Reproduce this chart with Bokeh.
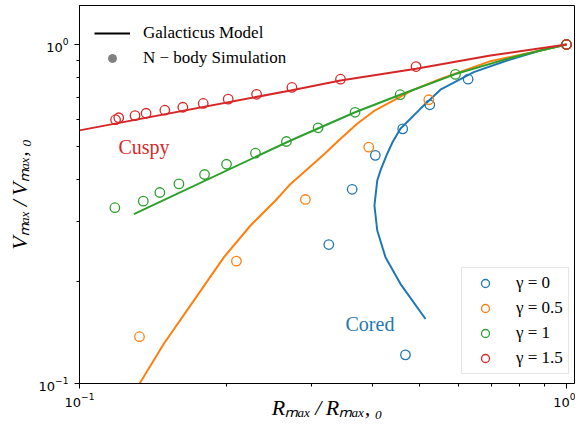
import numpy as np
from bokeh.plotting import figure
from bokeh.models import Range1d, FixedTicker, LogTickFormatter, Legend, LegendItem, Label
from bokeh.embed import file_html
from bokeh.resources import INLINE

# ---------------- data ----------------
# Galacticus model tracks (R/R0, V/V0)
model_g0_x = [1.0, 0.884, 0.755, 0.645, 0.551, 0.501, 0.456, 0.439, 0.427, 0.415, 0.4087, 0.4033, 0.4087, 0.4249, 0.456, 0.5135]
model_g0_y = [1.0, 0.960, 0.897, 0.829, 0.7355, 0.646, 0.564, 0.514, 0.471, 0.425, 0.397, 0.335, 0.2827, 0.2359, 0.1968, 0.155]

model_g05_x = [0.1328, 0.149, 0.169, 0.198, 0.2245, 0.2527, 0.2713, 0.3175, 0.3436, 0.3716, 0.402, 0.482, 0.551, 0.698, 0.884, 1.0]
model_g05_y = [0.0999, 0.131, 0.170, 0.2359, 0.2925, 0.3466, 0.388, 0.4737, 0.527, 0.5835, 0.6357, 0.732, 0.792, 0.893, 0.960, 1.0]

model_g1_x = [0.1293, 0.2713, 0.368, 0.4555, 0.5915, 0.755, 0.884, 1.0]
model_g1_y = [0.316, 0.521, 0.631, 0.7106, 0.818, 0.907, 0.960, 1.0]

model_g15_x = [0.1, 0.2713, 0.3435, 0.491, 0.698, 1.0]
model_g15_y = [0.558, 0.732, 0.783, 0.848, 0.928, 1.0]

# N-body simulation points
sim_g0_x = [0.467, 0.325, 0.363, 0.405, 0.461, 0.524, 0.628, 1.0]
sim_g0_y = [0.1215, 0.257, 0.374, 0.471, 0.564, 0.664, 0.790, 1.0]

sim_g05_x = [0.1328, 0.210, 0.291, 0.3926, 0.5215, 1.0]
sim_g05_y = [0.1374, 0.2296, 0.349, 0.498, 0.687, 1.0]

sim_g1_x = [0.1182, 0.1352, 0.1462, 0.160, 0.1806, 0.2004, 0.2298, 0.266, 0.309, 0.368, 0.4555, 0.5915, 1.0]
sim_g1_y = [0.330, 0.345, 0.366, 0.388, 0.4135, 0.4434, 0.478, 0.5175, 0.568, 0.631, 0.711, 0.816, 1.0]

sim_g15_x = [0.1186, 0.1204, 0.130, 0.137, 0.1497, 0.163, 0.1795, 0.202, 0.231, 0.273, 0.3435, 0.491, 1.0]
sim_g15_y = [0.600, 0.608, 0.617, 0.627, 0.640, 0.653, 0.670, 0.690, 0.713, 0.747, 0.790, 0.861, 1.0]

gamma_labels = ["γ = 0", "γ = 0.5", "γ = 1", "γ = 1.5"]
major_ticks = [0.1, 1.0]
minor_ticks = [0.2, 0.3, 0.4, 0.5, 0.6, 0.7, 0.8, 0.9]

# ---------------- layout ----------------
W, H = 575, 429
BL, BR, BT, BB = 79, 1, 5, 46
FL, FT = BL, BT
FW = W - BL - BR
FH = H - BT - BB
FB = FT + FH
DEC_X, DEC_Y = 487.0, 339.0          # pixels per decade
X0, Y0 = 0.1, 0.1
X1 = 10 ** (np.log10(X0) + FW / DEC_X)
Y1 = 10 ** (np.log10(Y0) + FH / DEC_Y)

def px_x(px):
    return 10 ** (np.log10(X0) + (px - FL) / DEC_X)

def px_y(py):
    return 10 ** (np.log10(Y0) + (FB - py) / DEC_Y)

C0, C1, C2, C3 = "#1f77b4", "#ff7f0e", "#2ca02c", "#d62728"
SERIF = "Liberation Serif"

p = figure(width=W, height=H, x_axis_type="log", y_axis_type="log",
           x_range=Range1d(X0, X1), y_range=Range1d(Y0, Y1),
           output_backend="svg", toolbar_location=None, title=None,
           min_border_left=BL, min_border_right=BR, min_border_top=BT, min_border_bottom=BB)
p.background_fill_color = "white"
p.border_fill_color = "white"
p.outline_line_color = "black"
p.outline_line_width = 1
p.grid.visible = False

for ax in (p.xaxis[0], p.yaxis[0]):
    ax.ticker = FixedTicker(ticks=major_ticks, minor_ticks=minor_ticks)
    ax.formatter = LogTickFormatter()
    ax.major_tick_in = 0
    ax.major_tick_out = 5
    ax.minor_tick_in = 0
    ax.minor_tick_out = 3
    ax.axis_line_color = "black"
    ax.major_tick_line_color = "black"
    ax.minor_tick_line_color = "black"
    ax.major_label_text_font = "DejaVu Sans"
    ax.major_label_text_font_size = "13px"
    ax.major_label_text_color = "black"
    ax.axis_label_text_font = SERIF
    ax.axis_label_text_font_size = "22px"
    ax.axis_label_text_font_style = "italic"
    ax.axis_label_text_color = "black"
p.xaxis.major_label_standoff = 4
p.yaxis.major_label_standoff = 6
p.xaxis.axis_label = "R\u2098\u2090\u2093\u2009/\u2009R\u2098\u2090\u2093,\u2009\u2080"
p.yaxis.axis_label = "V\u2098\u2090\u2093\u2009/\u2009V\u2098\u2090\u2093,\u2009\u2080"
p.xaxis.axis_label_standoff = -15
p.yaxis.axis_label_standoff = 4

# model lines
lw = 2
p.line(model_g0_x, model_g0_y, line_color=C0, line_width=lw)
p.line(model_g05_x, model_g05_y, line_color=C1, line_width=lw)
p.line(model_g1_x, model_g1_y, line_color=C2, line_width=lw)
p.line(model_g15_x, model_g15_y, line_color=C3, line_width=lw)

# simulation points
ms = 9.5
s0 = p.scatter(sim_g0_x, sim_g0_y, marker="circle", size=ms, fill_color=None, line_color=C0, line_width=1.3)
s1 = p.scatter(sim_g05_x, sim_g05_y, marker="circle", size=ms, fill_color=None, line_color=C1, line_width=1.3)
s2 = p.scatter(sim_g1_x, sim_g1_y, marker="circle", size=ms, fill_color=None, line_color=C2, line_width=1.3)
s3 = p.scatter(sim_g15_x, sim_g15_y, marker="circle", size=ms, fill_color=None, line_color=C3, line_width=1.3)

# legend proxies (no visible data)
r_line = p.line(x=[np.nan], y=[np.nan], line_color="black", line_width=2)
r_dot = p.scatter(x=[np.nan], y=[np.nan], marker="circle", size=9, fill_color="gray", line_color="gray")

leg1 = Legend(items=[LegendItem(label="Galacticus Model", renderers=[r_line]),
                     LegendItem(label="N − body Simulation", renderers=[r_dot])],
              location=(15, 315), padding=0, margin=0,
              border_line_color=None, background_fill_alpha=0,
              glyph_width=36, glyph_height=20, label_height=20, spacing=5, label_standoff=13,
              label_text_font=SERIF, label_text_font_size="17px", label_text_color="black")
p.add_layout(leg1)

leg2 = Legend(items=[LegendItem(label=gamma_labels[0], renderers=[s0]),
                     LegendItem(label=gamma_labels[1], renderers=[s1]),
                     LegendItem(label=gamma_labels[2], renderers=[s2]),
                     LegendItem(label=gamma_labels[3], renderers=[s3])],
              location=(382, 9), padding=5, margin=0,
              border_line_color="#cccccc", border_line_width=1,
              background_fill_color="white", background_fill_alpha=0.8,
              glyph_width=36, glyph_height=20, label_height=20, spacing=5, label_standoff=13,
              label_text_font=SERIF, label_text_font_size="17px", label_text_color="black")
p.add_layout(leg2)

# annotations
p.add_layout(Label(x=px_x(118), y=px_y(146.5), text="Cuspy", text_color=C3,
                   text_font=SERIF, text_font_size="20px", text_baseline="alphabetic"))
p.add_layout(Label(x=px_x(345), y=px_y(323.3), text="Cored", text_color=C0,
                   text_font=SERIF, text_font_size="20px", text_baseline="alphabetic"))

open("out.html", "w").write(file_html(p, INLINE))
